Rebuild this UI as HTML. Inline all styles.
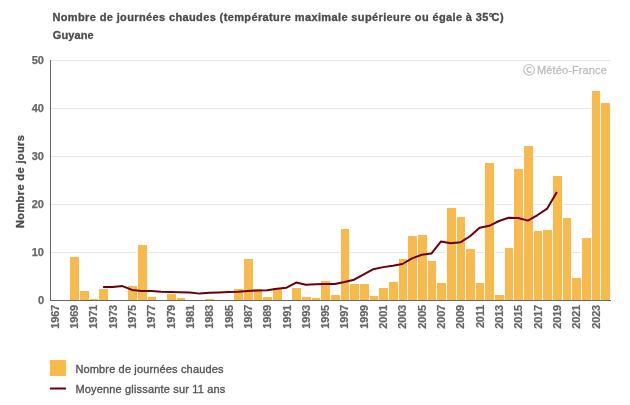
<!DOCTYPE html>
<html><head><meta charset="utf-8"><style>
html,body{margin:0;padding:0;background:#fff;width:630px;height:405px;overflow:hidden}
svg{display:block;will-change:transform;font-family:"Liberation Sans",sans-serif}
</style></head><body>
<svg width="630" height="405" viewBox="0 0 630 405">
<rect x="0" y="0" width="630" height="405" fill="#fff"/>
<text x="52.4" y="21" font-size="11" font-weight="bold" fill="#4a4a4a" stroke="#4a4a4a" stroke-width="0.3" letter-spacing="0.375">Nombre de journées chaudes (température maximale supérieure ou égale à 35<tspan letter-spacing="-1.6">°</tspan>C)</text>
<text x="52.8" y="38.8" font-size="11" font-weight="bold" fill="#4a4a4a" stroke="#4a4a4a" stroke-width="0.3" letter-spacing="0.1">Guyane</text>
<g shape-rendering="crispEdges"><rect x="50" y="60" width="561" height="1" fill="#e6e6e6"/><rect x="50" y="108" width="561" height="1" fill="#e6e6e6"/><rect x="50" y="156" width="561" height="1" fill="#e6e6e6"/><rect x="50" y="204" width="561" height="1" fill="#e6e6e6"/><rect x="50" y="252" width="561" height="1" fill="#e6e6e6"/></g>
<g fill="none" stroke="#bdbdbd"><circle cx="529.05" cy="69.85" r="5.35" stroke-width="1.1"/><path d="M 531.3 68.1 A 2.45 2.45 0 1 0 531.3 71.5" stroke-width="1.3"/></g>
<text x="537" y="73.8" font-size="11" fill="#bdbdbd" stroke="#bdbdbd" stroke-width="0.3" letter-spacing="0.12">Météo-France</text>
<g fill="#f8ba4d" shape-rendering="crispEdges"><rect x="69" y="255.80" width="11" height="44.20" fill="#fff"/><rect x="70" y="256.80" width="9" height="43.20"/><rect x="79" y="289.88" width="11" height="10.12" fill="#fff"/><rect x="80" y="290.88" width="9" height="9.12"/><rect x="89" y="297.56" width="10" height="2.44" fill="#fff"/><rect x="90" y="298.56" width="8" height="1.44"/><rect x="98" y="287.96" width="11" height="12.04" fill="#fff"/><rect x="99" y="288.96" width="9" height="11.04"/><rect x="127" y="284.60" width="11" height="15.40" fill="#fff"/><rect x="128" y="285.60" width="9" height="14.40"/><rect x="137" y="243.80" width="11" height="56.20" fill="#fff"/><rect x="138" y="244.80" width="9" height="55.20"/><rect x="147" y="296.12" width="10" height="3.88" fill="#fff"/><rect x="148" y="297.12" width="8" height="2.88"/><rect x="166" y="293.00" width="11" height="7.00" fill="#fff"/><rect x="167" y="294.00" width="9" height="6.00"/><rect x="176" y="296.84" width="10" height="3.16" fill="#fff"/><rect x="177" y="297.84" width="8" height="2.16"/><rect x="204" y="298.04" width="11" height="1.96" fill="#fff"/><rect x="205" y="299.04" width="9" height="0.96"/><rect x="233" y="287.96" width="11" height="12.04" fill="#fff"/><rect x="234" y="288.96" width="9" height="11.04"/><rect x="243" y="257.96" width="11" height="42.04" fill="#fff"/><rect x="244" y="258.96" width="9" height="41.04"/><rect x="253" y="287.96" width="10" height="12.04" fill="#fff"/><rect x="254" y="288.96" width="8" height="11.04"/><rect x="262" y="296.12" width="11" height="3.88" fill="#fff"/><rect x="263" y="297.12" width="9" height="2.88"/><rect x="272" y="287.48" width="11" height="12.52" fill="#fff"/><rect x="273" y="288.48" width="9" height="11.52"/><rect x="291" y="286.76" width="11" height="13.24" fill="#fff"/><rect x="292" y="287.76" width="9" height="12.24"/><rect x="301" y="296.12" width="11" height="3.88" fill="#fff"/><rect x="302" y="297.12" width="9" height="2.88"/><rect x="311" y="296.84" width="10" height="3.16" fill="#fff"/><rect x="312" y="297.84" width="8" height="2.16"/><rect x="320" y="280.04" width="11" height="19.96" fill="#fff"/><rect x="321" y="281.04" width="9" height="18.96"/><rect x="330" y="293.96" width="11" height="6.04" fill="#fff"/><rect x="331" y="294.96" width="9" height="5.04"/><rect x="340" y="227.96" width="10" height="72.04" fill="#fff"/><rect x="341" y="228.96" width="8" height="71.04"/><rect x="349" y="282.92" width="11" height="17.08" fill="#fff"/><rect x="350" y="283.92" width="9" height="16.08"/><rect x="359" y="282.92" width="11" height="17.08" fill="#fff"/><rect x="360" y="283.92" width="9" height="16.08"/><rect x="369" y="294.92" width="10" height="5.08" fill="#fff"/><rect x="370" y="295.92" width="8" height="4.08"/><rect x="378" y="287.00" width="11" height="13.00" fill="#fff"/><rect x="379" y="288.00" width="9" height="12.00"/><rect x="388" y="281.00" width="11" height="19.00" fill="#fff"/><rect x="389" y="282.00" width="9" height="18.00"/><rect x="398" y="257.96" width="10" height="42.04" fill="#fff"/><rect x="399" y="258.96" width="8" height="41.04"/><rect x="407" y="234.68" width="11" height="65.32" fill="#fff"/><rect x="408" y="235.68" width="9" height="64.32"/><rect x="417" y="233.96" width="11" height="66.04" fill="#fff"/><rect x="418" y="234.96" width="9" height="65.04"/><rect x="427" y="260.12" width="10" height="39.88" fill="#fff"/><rect x="428" y="261.12" width="8" height="38.88"/><rect x="436" y="281.96" width="11" height="18.04" fill="#fff"/><rect x="437" y="282.96" width="9" height="17.04"/><rect x="446" y="207.08" width="11" height="92.92" fill="#fff"/><rect x="447" y="208.08" width="9" height="91.92"/><rect x="456" y="215.96" width="10" height="84.04" fill="#fff"/><rect x="457" y="216.96" width="8" height="83.04"/><rect x="465" y="247.88" width="11" height="52.12" fill="#fff"/><rect x="466" y="248.88" width="9" height="51.12"/><rect x="475" y="281.96" width="10" height="18.04" fill="#fff"/><rect x="476" y="282.96" width="8" height="17.04"/><rect x="484" y="162.20" width="11" height="137.80" fill="#fff"/><rect x="485" y="163.20" width="9" height="136.80"/><rect x="494" y="293.72" width="11" height="6.28" fill="#fff"/><rect x="495" y="294.72" width="9" height="5.28"/><rect x="504" y="246.92" width="10" height="53.08" fill="#fff"/><rect x="505" y="247.92" width="8" height="52.08"/><rect x="513" y="167.96" width="11" height="132.04" fill="#fff"/><rect x="514" y="168.96" width="9" height="131.04"/><rect x="523" y="144.92" width="11" height="155.08" fill="#fff"/><rect x="524" y="145.92" width="9" height="154.08"/><rect x="533" y="229.88" width="10" height="70.12" fill="#fff"/><rect x="534" y="230.88" width="8" height="69.12"/><rect x="542" y="228.92" width="11" height="71.08" fill="#fff"/><rect x="543" y="229.92" width="9" height="70.08"/><rect x="552" y="175.16" width="11" height="124.84" fill="#fff"/><rect x="553" y="176.16" width="9" height="123.84"/><rect x="562" y="217.16" width="10" height="82.84" fill="#fff"/><rect x="563" y="218.16" width="8" height="81.84"/><rect x="571" y="276.92" width="11" height="23.08" fill="#fff"/><rect x="572" y="277.92" width="9" height="22.08"/><rect x="581" y="237.08" width="11" height="62.92" fill="#fff"/><rect x="582" y="238.08" width="9" height="61.92"/><rect x="591" y="90.20" width="10" height="209.80" fill="#fff"/><rect x="592" y="91.20" width="8" height="208.80"/><rect x="600" y="102.20" width="11" height="197.80" fill="#fff"/><rect x="601" y="103.20" width="9" height="196.80"/></g>
<g shape-rendering="crispEdges">
<rect x="50" y="60" width="1" height="241" fill="#666"/>
<rect x="50" y="300" width="561" height="1" fill="#666"/>
</g>
<path d="M 103.10 287.04 L 112.76 286.90 L 122.41 286.08 L 132.07 289.92 L 141.72 290.88 L 151.38 290.98 L 161.03 291.84 L 170.69 291.94 L 180.34 292.18 L 190.00 292.42 L 199.65 293.62 L 209.31 292.80 L 218.96 292.42 L 228.62 292.08 L 238.27 291.84 L 247.93 290.88 L 257.58 290.50 L 267.24 290.16 L 276.89 288.72 L 286.55 287.71 L 296.20 282.58 L 305.86 284.78 L 315.51 284.16 L 325.17 283.92 L 334.82 283.92 L 344.48 282.00 L 354.13 279.70 L 363.79 274.32 L 373.44 269.18 L 383.10 267.12 L 392.75 265.82 L 402.41 264.00 L 412.06 258.34 L 421.72 254.78 L 431.37 253.58 L 441.03 241.49 L 450.68 243.22 L 460.34 242.30 L 469.99 236.26 L 479.65 227.71 L 489.30 225.79 L 498.96 220.99 L 508.61 217.78 L 518.27 218.02 L 527.92 220.61 L 537.58 215.04 L 547.23 208.56 L 556.89 192.00" fill="none" stroke="#6c0008" stroke-width="2" stroke-linejoin="round" stroke-linecap="butt"/>
<g font-size="11" font-weight="bold" fill="#666" stroke="#666" stroke-width="0.25"><text x="44" y="304.0" text-anchor="end">0</text><text x="44" y="256.0" text-anchor="end">10</text><text x="44" y="208.0" text-anchor="end">20</text><text x="44" y="160.0" text-anchor="end">30</text><text x="44" y="112.0" text-anchor="end">40</text><text x="44" y="64.0" text-anchor="end">50</text></g>
<g font-size="11" font-weight="bold" fill="#666" stroke="#666" stroke-width="0.2" letter-spacing="-0.2"><text transform="translate(58.83,305) rotate(-90)" text-anchor="end">1967</text><text transform="translate(78.14,305) rotate(-90)" text-anchor="end">1969</text><text transform="translate(97.45,305) rotate(-90)" text-anchor="end">1971</text><text transform="translate(116.76,305) rotate(-90)" text-anchor="end">1973</text><text transform="translate(136.07,305) rotate(-90)" text-anchor="end">1975</text><text transform="translate(155.38,305) rotate(-90)" text-anchor="end">1977</text><text transform="translate(174.69,305) rotate(-90)" text-anchor="end">1979</text><text transform="translate(194.00,305) rotate(-90)" text-anchor="end">1981</text><text transform="translate(213.31,305) rotate(-90)" text-anchor="end">1983</text><text transform="translate(232.62,305) rotate(-90)" text-anchor="end">1985</text><text transform="translate(251.93,305) rotate(-90)" text-anchor="end">1987</text><text transform="translate(271.24,305) rotate(-90)" text-anchor="end">1989</text><text transform="translate(290.55,305) rotate(-90)" text-anchor="end">1991</text><text transform="translate(309.86,305) rotate(-90)" text-anchor="end">1993</text><text transform="translate(329.17,305) rotate(-90)" text-anchor="end">1995</text><text transform="translate(348.48,305) rotate(-90)" text-anchor="end">1997</text><text transform="translate(367.79,305) rotate(-90)" text-anchor="end">1999</text><text transform="translate(387.10,305) rotate(-90)" text-anchor="end">2001</text><text transform="translate(406.41,305) rotate(-90)" text-anchor="end">2003</text><text transform="translate(425.72,305) rotate(-90)" text-anchor="end">2005</text><text transform="translate(445.03,305) rotate(-90)" text-anchor="end">2007</text><text transform="translate(464.34,305) rotate(-90)" text-anchor="end">2009</text><text transform="translate(483.65,305) rotate(-90)" text-anchor="end">2011</text><text transform="translate(502.96,305) rotate(-90)" text-anchor="end">2013</text><text transform="translate(522.27,305) rotate(-90)" text-anchor="end">2015</text><text transform="translate(541.58,305) rotate(-90)" text-anchor="end">2017</text><text transform="translate(560.89,305) rotate(-90)" text-anchor="end">2019</text><text transform="translate(580.20,305) rotate(-90)" text-anchor="end">2021</text><text transform="translate(599.51,305) rotate(-90)" text-anchor="end">2023</text></g>
<text transform="translate(23.7,228) rotate(-90)" font-size="11" font-weight="bold" fill="#4a4a4a" stroke="#4a4a4a" stroke-width="0.3" letter-spacing="0.39">Nombre de jours</text>
<rect x="50" y="360" width="16" height="16" fill="#f8ba4d"/>
<rect x="50" y="387.5" width="16" height="2" fill="#6c0008"/>
<text x="75.4" y="372.6" font-size="11" fill="#555" stroke="#555" stroke-width="0.35" letter-spacing="0.15">Nombre de journées chaudes</text>
<text x="75.4" y="392.5" font-size="11" fill="#555" stroke="#555" stroke-width="0.35" letter-spacing="0.17">Moyenne glissante sur 11 ans</text>
</svg>
</body></html>
